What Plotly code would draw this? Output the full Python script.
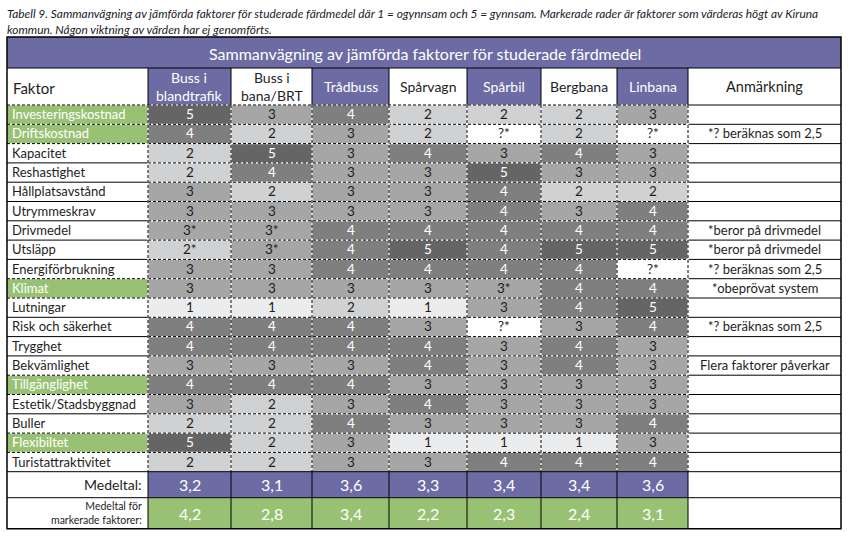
import plotly.graph_objects as go

# ---------------- data ----------------
caption_lines = [
    "Tabell 9. Sammanvägning av jämförda faktorer för studerade färdmedel där 1 = ogynnsam och 5 = gynnsam. Markerade rader är faktorer som värderas högt av Kiruna",
    "kommun. Någon viktning av värden har ej genomförts.",
]
table_title = "Sammanvägning av jämförda faktorer för studerade färdmedel"
factor_header = "Faktor"
remark_header = "Anmärkning"
modes = ["Buss i<br>blandtrafik", "Buss i<br>bana/BRT", "Trådbuss", "Spårvagn", "Spårbil", "Bergbana", "Linbana"]
mode_header_highlight = [True, False, True, False, True, False, True]

factors = ["Investeringskostnad", "Driftskostnad", "Kapacitet", "Reshastighet", "Hållplatsavstånd",
           "Utrymmeskrav", "Drivmedel", "Utsläpp", "Energiförbrukning", "Klimat", "Lutningar",
           "Risk och säkerhet", "Trygghet", "Bekvämlighet", "Tillgänglighet", "Estetik/Stadsbyggnad",
           "Buller", "Flexibiltet", "Turistattraktivitet"]
marked = [True, True, False, False, False, False, False, False, False, True, False,
          False, False, False, True, False, False, True, False]

buss_blandtrafik = ["5", "4", "2", "2", "3", "3", "3*", "2*", "3", "3", "1", "4", "4", "3", "4", "3", "2", "5", "2"]
buss_bana_brt    = ["3", "2", "5", "4", "2", "3", "3*", "3*", "3", "3", "1", "4", "4", "3", "4", "2", "2", "2", "2"]
tradbuss         = ["4", "3", "3", "3", "3", "3", "4", "4", "4", "3", "2", "4", "4", "3", "4", "3", "4", "3", "3"]
sparvagn         = ["2", "2", "4", "3", "3", "3", "4", "5", "4", "3", "1", "3", "4", "4", "3", "4", "3", "1", "3"]
sparbil          = ["2", "?*", "3", "5", "4", "4", "4", "4", "4", "3*", "3", "?*", "3", "3", "3", "3", "3", "1", "4"]
bergbana         = ["2", "2", "4", "3", "2", "3", "4", "5", "4", "4", "4", "3", "4", "4", "3", "3", "3", "1", "4"]
linbana          = ["3", "?*", "3", "3", "2", "4", "4", "5", "?*", "4", "5", "4", "3", "3", "3", "3", "4", "3", "4"]
scores = [buss_blandtrafik, buss_bana_brt, tradbuss, sparvagn, sparbil, bergbana, linbana]

remarks = ["", "*? beräknas som 2,5", "", "", "", "", "*beror på drivmedel", "*beror på drivmedel",
           "*? beräknas som 2,5", "*obeprövat system", "", "*? beräknas som 2,5", "", "Flera faktorer påverkar",
           "", "", "", "", ""]

mean_label = "Medeltal:"
mean_marked_label = "Medeltal för<br>markerade faktorer:"
mean_all = ["3,2", "3,1", "3,6", "3,3", "3,4", "3,4", "3,6"]
mean_marked = ["4,2", "2,8", "3,4", "2,2", "2,3", "2,4", "3,1"]

# ---------------- style / layout ----------------
W, H = 849, 542
FONT = "Lato"
PURPLE = "#6c6ba3"
GREEN = "#98c174"
TXT = "#1e1e1e"
SHADES = {"5": "#656566", "4": "#7f7f80", "3": "#a6a6a7", "2": "#d0d1d2", "1": "#ebeced"}

col_edges = [7, 148, 231, 312, 389, 467, 541, 617, 688, 841]
title_top, header_top, rows_top = 37, 68, 105
row_h = 19.3
n_rows = len(factors)
rows_bottom = rows_top + n_rows * row_h
mean_bottom = rows_bottom + 26
marked_bottom = mean_bottom + 31

shapes = []
ann = []


def rect(x0, x1, y0, y1, color):
    shapes.append(dict(type="rect", xref="x", yref="y", x0=x0, x1=x1, y0=y0, y1=y1,
                       fillcolor=color, line=dict(width=0), layer="above"))


def line(x0, y0, x1, y1, dashed=False, width=1):
    if dashed:
        shapes.append(dict(type="line", xref="x", yref="y", x0=x0, y0=y0, x1=x1, y1=y1,
                           line=dict(color="white", width=1.2), layer="above"))
        shapes.append(dict(type="line", xref="x", yref="y", x0=x0, y0=y0, x1=x1, y1=y1,
                           line=dict(color="black", width=1, dash="3px,2px"), layer="above"))
    else:
        shapes.append(dict(type="line", xref="x", yref="y", x0=x0, y0=y0, x1=x1, y1=y1,
                           line=dict(color="black", width=width), layer="above"))


def text(x, y, s, size, color=TXT, xanchor="center", italic=False):
    ann.append(dict(x=x, y=y, xref="x", yref="y", text=s, showarrow=False, xanchor=xanchor,
                    yanchor="middle", align=("right" if xanchor == "right" else "left" if xanchor == "left" else "center"),
                    font=dict(family=FONT, size=size, color=color, style="italic" if italic else "normal")))


def shade(v):
    return SHADES.get(v[0], "#ffffff")


def cell_text_color(v):
    return "white" if v[0] in ("4", "5") else TXT


# caption
for cl, cy in zip(caption_lines, [13, 29]):
    text(5, cy, cl, 11.9, color="#1a1a2a", xanchor="left", italic=True)

# title bar
rect(col_edges[0], col_edges[-1], title_top, header_top, PURPLE)
text(425, (title_top + header_top) / 2 + 1, table_title, 16, color="white")

# header row
hy = (header_top + rows_top) / 2
text(col_edges[0] + 4, hy + 1, factor_header, 15, xanchor="left")
for j, m in enumerate(modes):
    x0, x1 = col_edges[j + 1], col_edges[j + 2]
    if mode_header_highlight[j]:
        rect(x0, x1, header_top, rows_top, PURPLE)
    text((x0 + x1) / 2, hy, m, 14, color="white" if mode_header_highlight[j] else TXT)
text((col_edges[8] + col_edges[9]) / 2, hy, remark_header, 14.5)

# data rows
for i, f in enumerate(factors):
    y0 = rows_top + i * row_h
    y1 = y0 + row_h
    ym = (y0 + y1) / 2 - 0.5
    if marked[i]:
        rect(col_edges[0], col_edges[1], y0, y1, GREEN)
    text(col_edges[0] + 3, ym, f, 13, color="white" if marked[i] else TXT, xanchor="left")
    for j in range(len(modes)):
        v = scores[j][i]
        x0, x1 = col_edges[j + 1], col_edges[j + 2]
        rect(x0, x1, y0, y1, shade(v))
        text((x0 + x1) / 2, ym, v, 13.5, color=cell_text_color(v))
    if remarks[i]:
        text((col_edges[8] + col_edges[9]) / 2, ym, remarks[i], 13)

# mean rows
for j in range(len(modes)):
    x0, x1 = col_edges[j + 1], col_edges[j + 2]
    rect(x0, x1, rows_bottom, mean_bottom, PURPLE)
    rect(x0, x1, mean_bottom, marked_bottom, GREEN)
    text((x0 + x1) / 2, (rows_bottom + mean_bottom) / 2, mean_all[j], 16, color="white")
    text((x0 + x1) / 2, (mean_bottom + marked_bottom) / 2, mean_marked[j], 16, color="white")
text(col_edges[1] - 4, (rows_bottom + mean_bottom) / 2, mean_label, 14, xanchor="right")
text(col_edges[1] - 4, (mean_bottom + marked_bottom) / 2, mean_marked_label, 10.5, xanchor="right")

# grid lines: horizontal in data area
for i in range(n_rows):
    y = rows_top + i * row_h
    adj_marked = i == 0 or marked[i] or marked[i - 1]
    line(col_edges[0], y, col_edges[1], y, dashed=adj_marked)
    line(col_edges[1], y, col_edges[8], y, dashed=True)
    line(col_edges[8], y, col_edges[9], y)
# vertical in data area
for k in range(1, 9):
    line(col_edges[k], rows_top, col_edges[k], rows_bottom, dashed=True)
# solid structure lines
line(col_edges[0], header_top, col_edges[-1], header_top)
line(col_edges[0], rows_bottom, col_edges[-1], rows_bottom)
line(col_edges[0], mean_bottom, col_edges[-1], mean_bottom)
for k in range(1, 9):
    line(col_edges[k], header_top, col_edges[k], rows_top)
    line(col_edges[k], rows_bottom, col_edges[k], marked_bottom)
# outer border
shapes.append(dict(type="rect", xref="x", yref="y", x0=col_edges[0], x1=col_edges[-1], y0=title_top,
                   y1=marked_bottom, line=dict(color="black", width=1.5), fillcolor="rgba(0,0,0,0)", layer="above"))

fig = go.Figure(go.Scatter(x=[0], y=[0], mode="markers", marker=dict(opacity=0), hoverinfo="skip", showlegend=False))
fig.update_layout(
    width=W, height=H, margin=dict(l=0, r=0, t=0, b=0),
    paper_bgcolor="white", plot_bgcolor="white",
    xaxis=dict(range=[0, W], visible=False, fixedrange=True),
    yaxis=dict(range=[H, 0], visible=False, fixedrange=True),
    shapes=shapes, annotations=ann, showlegend=False,
)
fig.write_html("out.html", config=dict(displayModeBar=False),
               post_script="document.body.style.margin='0';document.body.style.overflow='hidden';")
